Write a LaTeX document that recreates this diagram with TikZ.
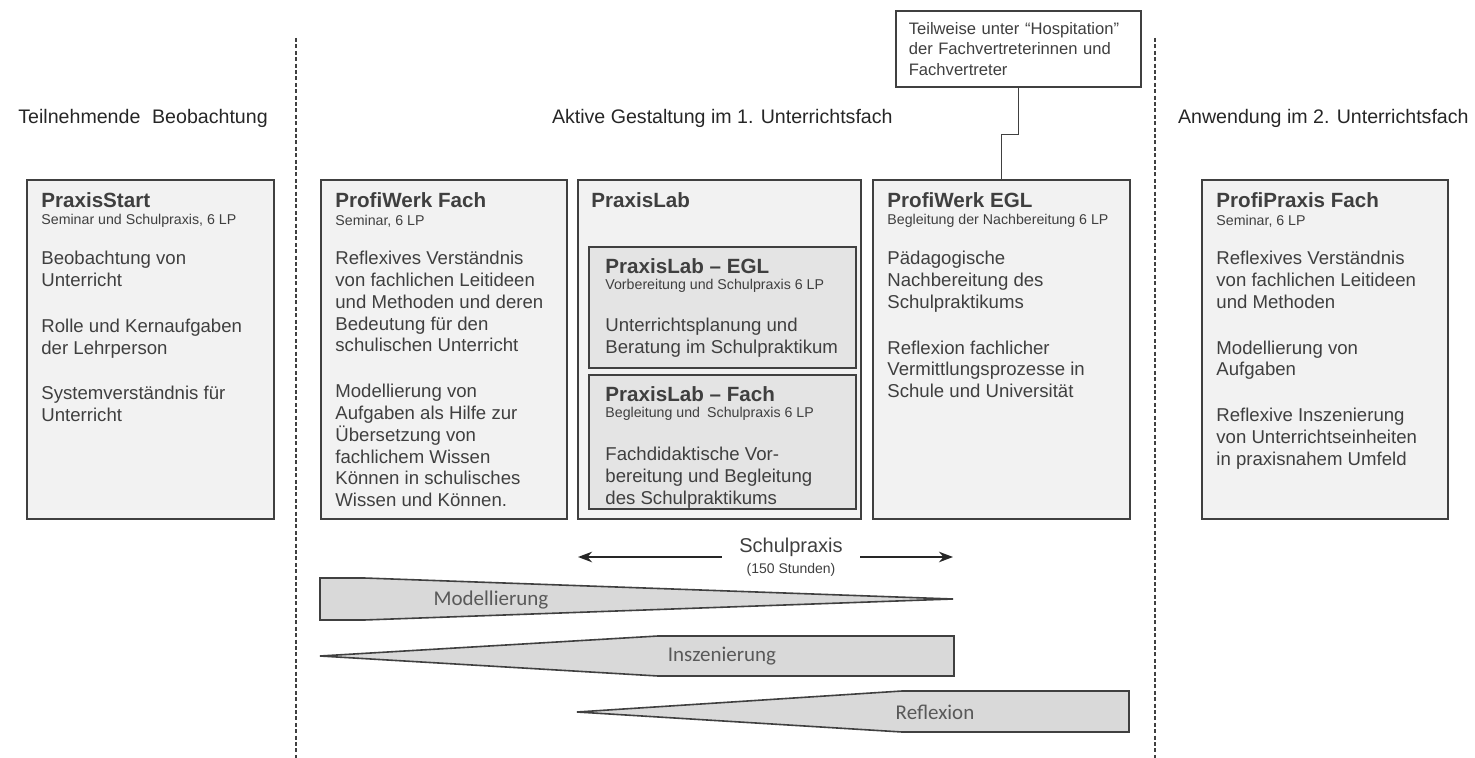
\documentclass[tikz,border=0pt]{standalone}
\usepackage{fontspec}
\setmainfont{Liberation Sans}
\newfontfamily\wedgefont{Carlito}
\usepackage{xcolor}
\usepackage{tikz}
\usetikzlibrary{arrows.meta,positioning,calc}
\tikzset{>=Stealth}

\definecolor{boxline}{HTML}{404040}
\definecolor{boxfill}{HTML}{F2F2F2}
\definecolor{inboxfill}{HTML}{E4E4E4}
\definecolor{wedgefill}{HTML}{D9D9D9}
\definecolor{txt}{HTML}{3F3F3F}
\definecolor{headtxt}{HTML}{262626}
\definecolor{wedgetxt}{HTML}{595959}

\begin{document}
\begin{tikzpicture}[
				x=0.5pt, y=-0.5pt,
				box/.style={rectangle, draw=boxline, fill=boxfill, line width=0.8pt,
					anchor=north west, inner sep=0pt, minimum height=169.5pt},
				inbox/.style={box, fill=inboxfill},
				ttl/.style={anchor=west, inner sep=0pt, text=txt,
					font=\fontsize{10.3}{12}\selectfont\bfseries},
				sub/.style={anchor=west, inner sep=0pt, text=txt,
					font=\fontsize{7.1}{8}\selectfont},
				body/.style={anchor=north west, inner sep=0pt, align=left, text=txt,
					font=\fontsize{9.3}{10.9}\selectfont},
				head/.style={inner sep=0pt, text=headtxt, font=\fontsize{9.8}{12}\selectfont},
				wedge/.style={draw=boxline, fill=wedgefill, line width=0.8pt},
				wlabel/.style={inner sep=0pt, text=wedgetxt, font=\wedgefont\fontsize{10.5}{12}\selectfont},
				arrow/.style={->, line width=0.9pt, draw=black!85},
				sep/.style={draw=boxline, line width=0.6pt, dash pattern=on 2pt off 1.2pt},
				conn/.style={draw=boxline, line width=0.8pt}
				]
				
				\useasboundingbox (0,0) rectangle (1475,758);
				
				% Column separators
				\draw[sep] (296,38) -- (296,758);
				\draw[sep] (1155,38) -- (1155,758);
				
				% Column headings
				\node[head, anchor=west] (h1) at (18,118) {Teilnehmende\hspace{0.6em}Beobachtung};
				\node[head, anchor=east] (h2) at (893,118) {Aktive Gestaltung im 1. Unterrichtsfach};
				\node[head, anchor=east] (h3) at (1469,118) {Anwendung im 2. Unterrichtsfach};
				
				% Column 1: PraxisStart
				\node[box, minimum width=123.5pt] (start) at (26,179) {};
				\node[ttl] (start-t) at (41,200) {PraxisStart};
				\node[sub] (start-s) at (41,221) {Seminar und Schulpraxis, 6 LP};
				\node[body] (start-b) at (41,249) {\strut Beobachtung von\\Unterricht\\[12pt]
					Rolle und Kernaufgaben\\der Lehrperson\\[12pt]
					Systemverständnis für\\Unterricht};
				
				% Column 2: ProfiWerk Fach, PraxisLab, ProfiWerk EGL
				\node[box, minimum width=123pt] (pwfach) at (320,179) {};
				\node[ttl] (pwfach-t) at (335,200) {ProfiWerk Fach};
				\node[sub] (pwfach-s) at (335,221) {Seminar, 6 LP};
				\node[body] (pwfach-b) at (335,249) {\strut Reflexives Verständnis\\von fachlichen Leitideen\\
					und Methoden und deren\\Bedeutung für den\\schulischen Unterricht\\[12pt]
					Modellierung von\\Aufgaben als Hilfe zur\\Übersetzung von\\fachlichem Wissen\\
					Können in schulisches\\Wissen und Können.};
				
				\node[box, minimum width=141.5pt] (lab) at (577,179) {};
				\node[ttl] (lab-t) at (591,200) {PraxisLab};
				
				\node[inbox, minimum width=133.5pt, minimum height=60.5pt] (labegl) at (588,246) {};
				\node[ttl] (labegl-t) at (605,266) {PraxisLab -- EGL};
				\node[sub] (labegl-s) at (605,286) {Vorbereitung und Schulpraxis 6 LP};
				\node[body] (labegl-b) at (605,316) {\strut Unterrichtsplanung und\\Beratung im Schulpraktikum};
				
				\node[inbox, minimum width=133.5pt, minimum height=67pt] (labfach) at (588,374) {};
				\node[ttl] (labfach-t) at (605,394) {PraxisLab -- Fach};
				\node[sub] (labfach-s) at (605,414) {Begleitung und\hspace{0.5em}Schulpraxis 6 LP};
				\node[body] (labfach-b) at (605,445) {\strut Fachdidaktische Vor-\\bereitung und Begleitung\\des Schulpraktikums};
				
				\node[box, minimum width=128.5pt] (pwegl) at (872,179) {};
				\node[ttl] (pwegl-t) at (887,200) {ProfiWerk EGL};
				\node[sub] (pwegl-s) at (887,221) {Begleitung der Nachbereitung 6 LP};
				\node[body] (pwegl-b) at (887,249) {\strut Pädagogische\\Nachbereitung des\\Schulpraktikums\\[12pt]
					Reflexion fachlicher\\Vermittlungsprozesse in\\Schule und Universität};
				
				% Column 3: ProfiPraxis Fach
				\node[box, minimum width=123pt] (ppfach) at (1201,179) {};
				\node[ttl] (ppfach-t) at (1216,200) {ProfiPraxis Fach};
				\node[sub] (ppfach-s) at (1216,221) {Seminar, 6 LP};
				\node[body] (ppfach-b) at (1216,249) {\strut Reflexives Verständnis\\von fachlichen Leitideen\\und Methoden\\[12pt]
					Modellierung von\\Aufgaben\\[12pt]
					Reflexive Inszenierung\\von Unterrichtseinheiten\\in praxisnahem Umfeld};
				
				% Hospitation note
				\node[draw=boxline, fill=white, line width=0.8pt, anchor=north west,
				minimum width=122.5pt, minimum height=38pt, text width=109.5pt,
				inner xsep=6.5pt, align=left, text=txt, font=\fontsize{8.3}{10.25}\selectfont]
				(hosp) at (895,10) {Teilweise unter “Hospitation"\\der Fachvertreterinnen und\\Fachvertreter};
				\draw[conn] (hosp.south) -- ++(0,47) -| (pwegl.north);
				
				% Schulpraxis
				\node[inner xsep=8.5pt, inner ysep=0pt, align=center, text=txt,
				font=\fontsize{10}{10.5}\selectfont] (schul) at (791,557)
				{Schulpraxis\\{\fontsize{7}{8}\selectfont (150 Stunden)}};
				\coordinate (schul-l) at (578,557);
				\coordinate (schul-r) at (953,557);
				\draw[arrow] (schul) -- (schul-l);
				\draw[arrow] (schul) -- (schul-r);
				
				% Wedges
				\draw[wedge] (320,578) -- (364,578) -- (953,599) -- (364,620) -- (320,620) -- cycle;
				\node[wlabel] (modl) at (491,600) {Modellierung};
				\draw[wedge] (320,656) -- (658,636) -- (954,636) -- (954,676) -- (658,676) -- cycle;
				\node[wlabel] (insz) at (722,656) {Inszenierung};
				\draw[wedge] (577,712) -- (902,691) -- (1129,691) -- (1129,732) -- (902,732) -- cycle;
				\node[wlabel] (refl) at (935,712) {Reflexion};
				
			\end{tikzpicture}
\end{document}
